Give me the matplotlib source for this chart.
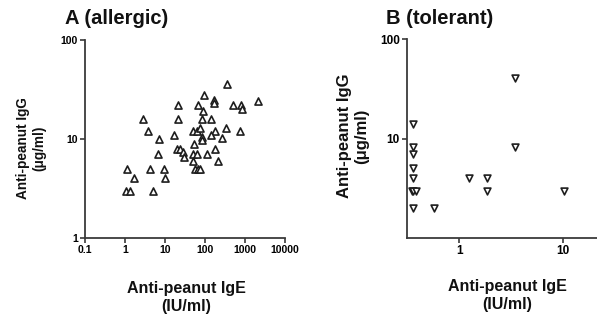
import matplotlib
matplotlib.use("Agg")
import matplotlib.pyplot as plt
from matplotlib.ticker import FixedLocator, FixedFormatter, NullLocator

plt.rcParams['font.family'] = ['Liberation Sans', 'DejaVu Sans']
plt.rcParams['font.weight'] = 'bold'

# Panel A (allergic): anti-peanut IgE (IU/ml) vs anti-peanut IgG (ug/ml)
ige_allergic = [349, 96, 168, 168, 68, 510, 781, 857, 2078, 20.8,
                91, 83, 139, 2.9, 21.5, 3.8, 7.2, 16.8, 51, 64,
                75, 83, 178, 139, 329, 750, 262, 83, 53, 178,
                19.6, 23.7, 28.7, 6.6, 30.4, 51, 64, 114, 215, 49,
                56, 68, 75, 1.1, 4.2, 9.6, 1.68, 10, 1.07, 1.33, 5.1]
igg_allergic = [36, 28, 25, 23, 22, 22, 22, 20, 24, 22,
                19, 16, 16, 16, 16, 12, 10, 11, 12, 12,
                13, 10.5, 12, 11, 13, 12, 10.3, 9.8, 8.8, 7.9,
                8, 8, 7.4, 7, 6.6, 7, 7, 7, 6, 6,
                5, 5, 5, 5, 5, 5, 4, 4, 3, 3, 3]

# Panel B (tolerant)
ige_tolerant = [3.43, 0.36, 0.36, 3.45, 0.36, 0.36, 0.36, 1.24, 1.86,
                0.35, 0.36, 0.38, 1.86, 10.2, 0.36, 0.57]
igg_tolerant = [41, 14, 8.2, 8.2, 7, 5, 4, 4, 4,
                3, 3, 3, 3, 3, 2, 2]

a_xticks = [0.1, 1, 10, 100, 1000, 10000]
a_xticklabels = ['0.1', '1', '10', '100', '1000', '10000']
a_yticks = [1, 10, 100]
a_yticklabels = ['1', '10', '100']
b_xticks = [1, 10]
b_xticklabels = ['1', '10']
b_yticks = [10, 100]
b_yticklabels = ['10', '100']

W, H = 597, 320
fig = plt.figure(figsize=(W / 100, H / 100), dpi=100)

spine_col = '#3a3a3a'
mk_col = '#1e1e1e'


def style(ax, fs):
    for s in ['top', 'right']:
        ax.spines[s].set_visible(False)
    for s in ['left', 'bottom']:
        ax.spines[s].set_color(spine_col)
        ax.spines[s].set_linewidth(1.3)
    ax.tick_params(which='major', direction='out', length=3.5, width=1.2,
                   color=spine_col, labelsize=fs, pad=1.5)
    ax.xaxis.set_minor_locator(NullLocator())
    ax.yaxis.set_minor_locator(NullLocator())
    for lab in ax.get_xticklabels() + ax.get_yticklabels():
        lab.set_fontweight('bold')


# Panel A
axA = fig.add_axes([85 / W, 1 - 238 / H, 200 / W, 198 / H])
axA.set_xscale('log')
axA.set_yscale('log')
axA.set_xlim(0.1, 10000)
axA.set_ylim(1, 100)
axA.scatter(ige_allergic, igg_allergic, marker='^', s=26, facecolors='white',
            edgecolors=mk_col, linewidths=1.2, clip_on=False, zorder=3)
axA.xaxis.set_major_locator(FixedLocator(a_xticks))
axA.xaxis.set_major_formatter(FixedFormatter(a_xticklabels))
axA.yaxis.set_major_locator(FixedLocator(a_yticks))
axA.yaxis.set_major_formatter(FixedFormatter(a_yticklabels))
style(axA, 7.5)

# Panel B
axB = fig.add_axes([406.7 / W, 1 - 238 / H, (W - 406.7) / W, 199 / H])
axB.set_xscale('log')
axB.set_yscale('log')
axB.set_xlim(0.312, 21.3)
axB.set_ylim(1, 100)
axB.scatter(ige_tolerant, igg_tolerant, marker='v', s=24, facecolors='white',
            edgecolors=mk_col, linewidths=1.2, clip_on=False, zorder=3)
axB.xaxis.set_major_locator(FixedLocator(b_xticks))
axB.xaxis.set_major_formatter(FixedFormatter(b_xticklabels))
axB.yaxis.set_major_locator(FixedLocator(b_yticks))
axB.yaxis.set_major_formatter(FixedFormatter(b_yticklabels))
style(axB, 8.5)

# Titles
fig.text(65 / W, 1 - 18 / H, 'A (allergic)', fontsize=14.5, fontweight='bold',
         ha='left', va='center', color='#111111')
fig.text(386 / W, 1 - 18 / H, 'B (tolerant)', fontsize=14.5, fontweight='bold',
         ha='left', va='center', color='#111111')

# Axis labels
fig.text(31 / W, 1 - 148 / H, 'Anti-peanut IgG\n(μg/ml)', fontsize=9.8,
         fontweight='bold', rotation=90, ha='center', va='center',
         multialignment='center', linespacing=1.25, color='#111111')
fig.text(186 / W, 1 - 298 / H, 'Anti-peanut IgE\n(IU/ml)', fontsize=11.5,
         fontweight='bold', ha='center', va='center',
         multialignment='center', linespacing=1.25, color='#111111')
fig.text(353 / W, 1 - 136 / H, 'Anti-peanut IgG\n(μg/ml)', fontsize=12,
         fontweight='bold', rotation=90, ha='center', va='center',
         multialignment='center', linespacing=1.25, color='#111111')
fig.text(507 / W, 1 - 295 / H, 'Anti-peanut IgE\n(IU/ml)', fontsize=11.5,
         fontweight='bold', ha='center', va='center',
         multialignment='center', linespacing=1.25, color='#111111')

fig.savefig('out.png', dpi=100)
